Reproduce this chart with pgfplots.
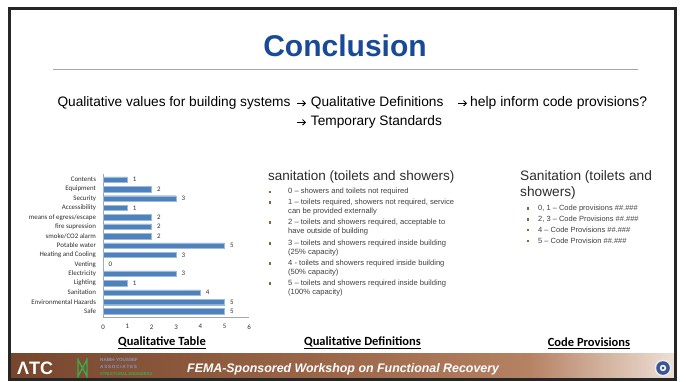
\documentclass[border=0pt]{standalone}
\usepackage{pgfplots}
\pgfplotsset{compat=1.18}
\usetikzlibrary{arrows.meta}
\usepackage{fontspec}
\setmainfont{Liberation Sans}
\newfontfamily\calib{Carlito}
\definecolor{titleblue}{RGB}{24,74,150}
\definecolor{barblue}{RGB}{79,129,189}
\definecolor{bulletc}{RGB}{140,100,60}
\definecolor{txt}{RGB}{45,45,45}
\definecolor{txtl}{RGB}{64,64,64}
\definecolor{brownL}{RGB}{118,70,45}
\definecolor{brownM}{RGB}{158,104,74}
\definecolor{brownN}{RGB}{182,130,100}
\definecolor{brownR}{RGB}{238,224,214}
\definecolor{nyagreen}{RGB}{60,170,80}
\definecolor{nyablue}{RGB}{130,150,200}
\definecolor{sealblue}{RGB}{60,85,150}
\pgfdeclarehorizontalshading{footer}{100bp}{color(0bp)=(brownL); color(25bp)=(brownL);
  color(50bp)=(brownM); color(64bp)=(brownN); color(75bp)=(brownR); color(100bp)=(brownR)}
\newcommand{\fs}[1]{\fontsize{#1}{#1}\selectfont}

\begin{document}
\begin{tikzpicture}
\begin{scope}[x=1pt,y=-1pt,every node/.style={inner sep=0pt}]
\useasboundingbox (0,0) rectangle (686,381);
\fill[white] (0,0) rectangle (686,381);

% title
\node[text=titleblue, font=\bfseries\fs{30}] at (345,46) {Conclusion};
\draw[gray!70, line width=0.8pt] (53,69) -- (638,69);
\node[anchor=west, font=\fs{13.7}] at (57.3,103.3) {Qualitative values for building systems};
\node[anchor=west, font=\fs{13.7}] at (310.7,103.3) {Qualitative Definitions};
\node[anchor=west, font=\fs{13.9}] at (470,103.3) {help inform code provisions?};
\node[anchor=west, font=\fs{13.7}] at (310.7,122.3) {Temporary Standards};
\foreach \x/\y in {297/103.3, 458/103.3, 297/122.3}
  \draw[-{Straight Barb[length=2.8pt,width=5.5pt]}, line width=0.9pt] (\x,\y) -- +(9,0);

% middle column
\node[anchor=west, text=txt, font=\fs{13.5}] at (268,177) {sanitation (toilets and showers)};
\foreach \y/\t in {191.7/0 – showers and toilets not required,
  202.3/{1 – toilets required, showers not required, service},
  211.7/can be provided externally,
  222.3/{2 – toilets and showers required, acceptable to},
  231.7/have outside of building,
  243.3/3 – toilets and showers required inside building,
  252.3/(25\% capacity),
  263.3/4 - toilets and showers required inside building,
  272.3/(50\% capacity),
  283.3/5 – toilets and showers required inside building,
  292.3/(100\% capacity)}
  \node[anchor=west, text=txtl, font=\fs{7.6}] at (288,\y) {\t};
\foreach \y in {191.7,202.3,222.3,243.3,263.3,283.3}
  \fill[bulletc] (268.5,\y-1.2) rectangle +(2.4,2.4);

% right column
\node[anchor=west, text=txt, font=\fs{13.7}] at (520,177) {Sanitation (toilets and};
\node[anchor=west, text=txt, font=\fs{13.7}] at (520,193) {showers)};
\foreach \y/\t in {208.3/{0, 1 – Code provisions \#\#.\#\#\#},
  219.3/{2, 3 – Code Provisions \#\#.\#\#\#},
  230/4 – Code Provisions \#\#.\#\#\#,
  240.7/5 – Code Provision \#\#.\#\#\#}
  \node[anchor=west, text=txtl, font=\fs{7.5}] at (538,\y) {\t};
\foreach \y in {208.3,219.3,230,240.7}
  \fill[bulletc] (526.5,\y-1.2) rectangle +(2.4,2.4);

% headings under the columns
\node[font=\calib\bfseries\fs{12.5}] at (162,343) {\underline{Qualitative Table}};
\node[font=\calib\bfseries\fs{12.5}] at (362.5,343) {\underline{Qualitative Definitions}};
\node[font=\calib\bfseries\fs{12.5}] at (589,343) {\underline{Code Provisions}};

% footer
\shade[shading=footer] (9.5,353) rectangle (675.5,378.5);
\node[text=white, font=\bfseries\fs{18}] at (35,368.5) {ΛTC};
\draw[nyagreen, line width=1.4pt] (78,358) -- (78,378) (87,358) -- (87,378)
  (78,360) -- (87,376) (87,360) -- (78,376);
\node[anchor=west, text=nyablue, font=\bfseries\fs{4.6}] at (100,359.5) {NABIH YOUSSEF};
\node[anchor=west, text=nyablue, font=\bfseries\fs{4.6}] at (100,367) {A\,S\,S\,O\,C\,I\,A\,T\,E\,S};
\node[anchor=west, text=nyagreen, font=\bfseries\fs{4}] at (100,374.5) {STRUCTURAL ENGINEERS};
\node[anchor=west, text=white, font=\bfseries\itshape\fs{12.4}] at (187,369) {FEMA-Sponsored Workshop on Functional Recovery};
\fill[white!85!gray] (663,368) circle (8.5);
\fill[sealblue] (663,368) circle (6.8);
\fill[white] (663,368) circle (3.2);
\fill[sealblue] (663,368) circle (1.6);

% frame
\draw[black!85, line width=3pt] (9.5,8.5) rectangle (675.5,379);
\end{scope}

\begin{axis}[
  at={(103pt,-317pt)}, anchor=south west,
  scale only axis, width=146pt, height=143pt,
  xbar, bar width=5.5pt,
  xmin=0, xmax=6, ymin=-0.6, ymax=14.6,
  xtick={0,...,6}, ytick={0,...,14},
  yticklabels={Safe,Environmental Hazards,Sanitation,Lighting,Electricity,Venting,
    Heating and Cooling,Potable water,smoke/CO2 alarm,fire supression,
    means of egress/escape,Accessibility,Security,Equipment,Contents},
  axis x line*=bottom, axis y line*=left,
  axis line style={draw=gray!70, -},
  major tick length=0pt,
  tick label style={font=\calib\fs{6.9}, text=txt},
  /pgf/number format/assume math mode=true,
  yticklabel style={xshift=-3.5pt},
  xticklabel style={yshift=-4pt},
  nodes near coords,
  nodes near coords style={font=\calib\fs{6.9}, text=txt, xshift=2pt},
]
\addplot[fill=barblue, draw=barblue!55!white, line width=0.4pt] coordinates {
  (5,0) (5,1) (4,2) (1,3) (3,4) (0,5) (3,6) (5,7)
  (2,8) (2,9) (2,10) (1,11) (3,12) (2,13) (1,14)};
\end{axis}
\end{tikzpicture}
\end{document}
